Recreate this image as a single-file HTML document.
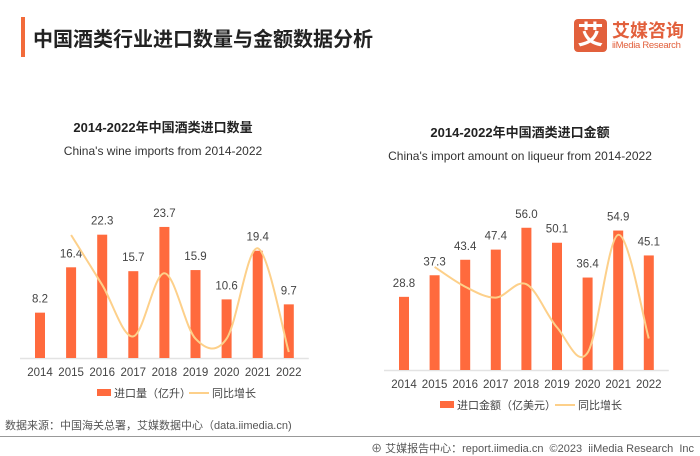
<!DOCTYPE html>
<html><head><meta charset="utf-8"><style>
body{margin:0;width:700px;height:455px;background:#fff;overflow:hidden;font-family:"Liberation Sans","Noto Sans CJK SC",sans-serif;position:relative}
.a{position:absolute;white-space:nowrap}
</style></head><body>
<div class="a" style="left:21px;top:17px;width:4px;height:40px;background:#f26b3a"></div>
<div class="a" style="left:33px;top:23px;font-size:20px;font-weight:bold;color:#222">中国酒类行业进口数量与金额数据分析</div>
<div class="a" style="left:574px;top:19px;width:33px;height:33px;background:#e2603c;border-radius:4px;color:#fff;font-size:26px;font-weight:bold;text-align:center;line-height:33px">艾</div>
<div class="a" style="left:612px;top:17px;font-size:18px;font-weight:bold;color:#e2603c">艾媒咨询</div>
<div class="a" style="left:612px;top:40px;font-size:9.5px;color:#e2603c;letter-spacing:-0.3px">iiMedia Research</div>

<svg class="a" style="left:0;top:0" width="700" height="455">
<g id="c1"></g>
<g id="c2"></g>
</svg>

<div class="a" style="left:5px;top:417px;font-size:11px;color:#555">数据来源：中国海关总署，艾媒数据中心（data.iimedia.cn)</div>
<div class="a" style="left:0;top:436px;width:700px;height:1px;background:#999"></div>
<div class="a" style="right:6px;top:440px;font-size:11px;color:#555">⊕ 艾媒报告中心：report.iimedia.cn &nbsp;©2023 &nbsp;iiMedia Research &nbsp;Inc</div>

<script>
const years=["2014","2015","2016","2017","2018","2019","2020","2021","2022"];
const volume=[8.2,16.4,22.3,15.7,23.7,15.9,10.6,19.4,9.7];
const volumeGrowth=[null,100,36,-30,51,-33,-33,83,-50];
const amount=[28.8,37.3,43.4,47.4,56.0,50.1,36.4,54.9,45.1];
const amountGrowth=[null,29.5,16.4,9.2,18.1,-10.5,-27.3,50.8,-17.9];
const NS="http://www.w3.org/2000/svg";
function mk(p,t,a){const e=document.createElementNS(NS,t);for(const k in a)e.setAttribute(k,a[k]);p.appendChild(e);return e;}
function txt(p,x,y,s,sz,fill,w,name){const t=mk(p,'text',{x:x,y:y,'font-size':sz,fill:fill,'text-anchor':'middle','font-weight':w||'normal'});t.textContent=s;


return t;}
function chart(g,o){
 const xs=i=>o.x0+i*o.dx, ys=v=>o.base-v*o.k, yg=v=>o.ga-v*o.gb;
 txt(g,o.cx,o.t1,o.title,13,'#222','bold','chart-title');
 txt(g,o.cx,o.t1+23,o.sub,12,'#333','normal','chart-subtitle');
 const ax=mk(g,'line',{x1:o.x0-20,x2:xs(8)+20,y1:o.base+0.5,y2:o.base+0.5,stroke:'#e3e3e3','stroke-width':1.5});
 
 
 o.vals.forEach((v,i)=>{
  const r=mk(g,'rect',{x:xs(i)-5,y:ys(v),width:10,height:o.base-ys(v),fill:'#ff6a3d'});
  
  
  txt(g,xs(i),ys(v)-10,v.toFixed(1),11.5,'#444','normal','bar-value-label');
  txt(g,xs(i),o.base+18,years[i],11.5,'#444','normal','x-tick-label');
 });
 const pts=[];o.gr.forEach((v,i)=>{if(v!==null)pts.push([xs(i),yg(v)]);});
 let d='M'+pts[0][0]+','+pts[0][1];
 for(let i=0;i<pts.length-1;i++){const p0=pts[Math.max(0,i-1)],p1=pts[i],p2=pts[i+1],p3=pts[Math.min(pts.length-1,i+2)];
  d+=' C'+(p1[0]+(p2[0]-p0[0])/6)+','+(p1[1]+(p2[1]-p0[1])/6)+' '+(p2[0]-(p3[0]-p1[0])/6)+','+(p2[1]-(p3[1]-p1[1])/6)+' '+p2[0]+','+p2[1];}
 const ln=mk(g,'path',{d:d,fill:'none',stroke:'#fdd08a','stroke-width':2});
 
 
 const lr=mk(g,'rect',{x:o.lx,y:o.ly-4,width:14,height:7,fill:'#ff6a3d'});
 
 
 const l1=txt(g,o.lx+17,o.ly+4,o.leg,11,'#444','normal','legend-bar-label');l1.setAttribute('text-anchor','start');
 const ll=mk(g,'line',{x1:o.lx+o.lo,x2:o.lx+o.lo+20,y1:o.ly,y2:o.ly,stroke:'#fdd08a','stroke-width':2});
 
 
 const l2=txt(g,o.lx+o.lo+23,o.ly+4,'同比增长',11,'#444','normal','legend-line-label');l2.setAttribute('text-anchor','start');
}
chart(document.getElementById('c1'),{x0:40,dx:31.1,base:358,k:5.53,ga:313,gb:0.78,vals:volume,gr:volumeGrowth,cx:163,t1:132,title:'2014-2022年中国酒类进口数量',sub:"China's wine imports from 2014-2022",lx:97,ly:393,leg:'进口量（亿升）',lo:92});
chart(document.getElementById('c2'),{x0:404,dx:30.6,base:370,k:2.54,ga:311.5,gb:1.51,vals:amount,gr:amountGrowth,cx:520,t1:137,title:'2014-2022年中国酒类进口金额',sub:"China's import amount on liqueur from 2014-2022",lx:440,ly:405,leg:'进口金额（亿美元）',lo:115});
</script>
</body></html>
